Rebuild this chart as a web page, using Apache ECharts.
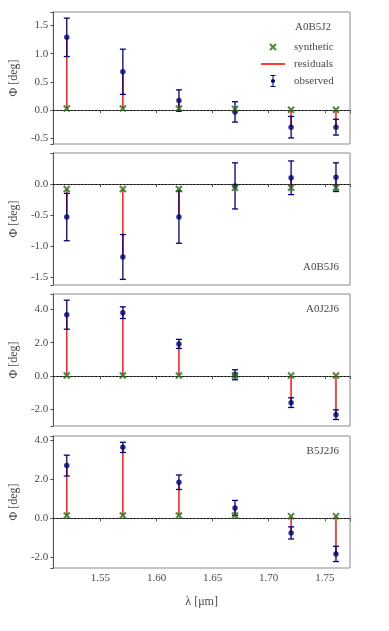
<!DOCTYPE html>
<html>
<head>
<meta charset="utf-8">
<script src="https://cdn.jsdelivr.net/npm/echarts@6/dist/echarts.min.js"></script>
<style>
  html, body { margin: 0; padding: 0; background: #fff; }
  #chart { width: 389px; height: 631px; }
</style>
</head>
<body>
<div id="chart"></div>
<script>
// wavelengths (micron)
const wavelengths = [1.52, 1.57, 1.62, 1.67, 1.72, 1.76];
const panelNames = ['A0B5J2', 'A0B5J6', 'A0J2J6', 'B5J2J6'];

// observed closure phase, its error, and the synthetic model (deg)
const obs_A0B5J2 = [1.29, 0.68, 0.17, -0.03, -0.30, -0.30];
const err_A0B5J2 = [0.34, 0.40, 0.19, 0.18, 0.19, 0.14];
const syn_A0B5J2 = [0.03, 0.03, 0.03, 0.02, 0.01, 0.01];

const obs_A0B5J6 = [-0.53, -1.17, -0.53, -0.03, 0.10, 0.11];
const err_A0B5J6 = [0.38, 0.36, 0.42, 0.37, 0.27, 0.23];
const syn_A0B5J6 = [-0.08, -0.08, -0.08, -0.06, -0.06, -0.06];

const obs_A0J2J6 = [3.68, 3.80, 1.93, 0.08, -1.59, -2.31];
const err_A0J2J6 = [0.87, 0.35, 0.27, 0.30, 0.29, 0.29];
const syn_A0J2J6 = [0.04, 0.04, 0.04, 0.04, 0.04, 0.04];

const obs_B5J2J6 = [2.69, 3.62, 1.84, 0.53, -0.75, -1.82];
const err_B5J2J6 = [0.53, 0.26, 0.37, 0.38, 0.31, 0.39];
const syn_B5J2J6 = [0.14, 0.14, 0.14, 0.14, 0.10, 0.10];

const observed = [obs_A0B5J2, obs_A0B5J6, obs_A0J2J6, obs_B5J2J6];
const errors = [err_A0B5J2, err_A0B5J6, err_A0J2J6, err_B5J2J6];
const synthetic = [syn_A0B5J2, syn_A0B5J6, syn_A0J2J6, syn_B5J2J6];

// axis limits
const xMin = 1.508, xMax = 1.7725;
const yMin = [-0.598, -1.62, -2.99, -2.54];
const yMax = [1.738, 0.498, 4.92, 4.20];
const ySplit = [5, 5, 4, 3];
const yStep = [0.5, 0.5, 2, 2];

const NAVY = '#00007a';
const RED = '#ff2424';
const GREEN = '#2b6e16';
const FONT = 'Liberation Serif';
const TXT = '#4a4a4a';

const X_SYMBOL = 'path://M0,2 L2,0 L5,3 L8,0 L10,2 L7,5 L10,8 L8,10 L5,7 L2,10 L0,8 L3,5 Z';
const X_ICON = 'path://M0,0 M16,16 M3,5 L5,3 L8,6 L11,3 L13,5 L10,8 L13,11 L11,13 L8,10 L5,13 L3,11 L6,8 Z';
const LINE_ICON = 'path://M0,0 H24 V1.8 H0 Z';
const ERR_ICON = 'path://M0,0 H6 V1.2 H0 Z M0,12.8 H6 V14 H0 Z M2.4,1.2 H3.6 V12.8 H2.4 Z M3,4.6 A2.4,2.4 0 1 1 3,9.4 A2.4,2.4 0 1 1 3,4.6 Z';

const tops = [12, 153, 294, 436];
const panelH = 132;

function onStep(v, step) {
  const r = v / step;
  return Math.abs(r - Math.round(r)) < 1e-6;
}

function errRender(params, api) {
  const x = api.value(0), y = api.value(1), e = api.value(2);
  const hi = api.coord([x, y + e]);
  const lo = api.coord([x, y - e]);
  const w = 3;
  const st = { stroke: NAVY, lineWidth: 1.3 };
  return {
    type: 'group',
    children: [
      { type: 'line', shape: { x1: hi[0], y1: hi[1], x2: lo[0], y2: lo[1] }, style: st },
      { type: 'line', shape: { x1: hi[0] - w, y1: hi[1], x2: hi[0] + w, y2: hi[1] }, style: st },
      { type: 'line', shape: { x1: lo[0] - w, y1: lo[1], x2: lo[0] + w, y2: lo[1] }, style: st }
    ]
  };
}

function resRender(params, api) {
  const x = api.value(0);
  const a = api.coord([x, api.value(1)]);
  const b = api.coord([x, api.value(2)]);
  return {
    type: 'line',
    shape: { x1: a[0], y1: a[1], x2: b[0], y2: b[1] },
    style: { stroke: RED, lineWidth: 1.6 }
  };
}

let grids = [], xAxes = [], yAxes = [], series = [];

for (let p = 0; p < 4; p++) {
  grids.push({
    left: 49, right: 39, top: tops[p], height: panelH,
    show: true, borderColor: '#8a8a8a', borderWidth: 1, backgroundColor: 'transparent'
  });
  const last = p === 3;
  xAxes.push({
    type: 'value', gridIndex: p, min: xMin, max: xMax, splitNumber: 5,
    splitLine: { show: false },
    axisLine: { show: true, lineStyle: { color: '#555', width: 1 } },
    axisTick: { show: true, length: 3, lineStyle: { color: '#555' } },
    axisLabel: {
      show: last, margin: 5, color: TXT, fontFamily: FONT, fontSize: 11,
      formatter: v => onStep(v, 0.05) ? v.toFixed(2) : ''
    },
    name: last ? 'λ [μm]' : '',
    nameLocation: 'middle', nameGap: 28,
    nameTextStyle: { color: TXT, fontFamily: FONT, fontSize: 12 }
  });
  const step = yStep[p];
  yAxes.push({
    type: 'value', gridIndex: p, min: yMin[p], max: yMax[p], splitNumber: ySplit[p],
    splitLine: { show: false },
    axisLine: { show: true, lineStyle: { color: '#555', width: 1 } },
    axisTick: { show: true, length: 3, lineStyle: { color: '#555' } },
    axisLabel: {
      margin: 5, color: TXT, fontFamily: FONT, fontSize: 11,
      formatter: v => onStep(v, step) ? v.toFixed(1) : ''
    },
    name: 'Φ [deg]', nameLocation: 'middle', nameGap: 30, nameRotate: 90,
    nameTextStyle: { color: TXT, fontFamily: FONT, fontSize: 12 }
  });

  const resData = wavelengths.map((w, i) => [w, synthetic[p][i], observed[p][i]]);
  const errData = wavelengths.map((w, i) => [w, observed[p][i], errors[p][i]]);
  const obsData = wavelengths.map((w, i) => [w, observed[p][i]]);
  const synData = wavelengths.map((w, i) => [w, synthetic[p][i]]);

  series.push({
    name: 'residuals', type: 'custom', xAxisIndex: p, yAxisIndex: p, z: 2,
    renderItem: resRender, data: resData, encode: { x: 0, y: [1, 2] },
    itemStyle: { color: RED },
    markLine: {
      silent: true, symbol: 'none', label: { show: false },
      lineStyle: { color: '#000', type: [1.5, 2], width: 1 },
      data: [{ yAxis: 0 }]
    }
  });
  series.push({
    name: 'observed', type: 'custom', xAxisIndex: p, yAxisIndex: p, z: 3,
    renderItem: errRender, data: errData, encode: { x: 0, y: 1 },
    itemStyle: { color: NAVY }
  });
  series.push({
    name: 'observed', type: 'scatter', xAxisIndex: p, yAxisIndex: p, z: 4,
    symbol: 'circle', symbolSize: 5.5, data: obsData,
    itemStyle: { color: NAVY }
  });
  series.push({
    name: 'synthetic', type: 'scatter', xAxisIndex: p, yAxisIndex: p, z: 5,
    symbol: X_SYMBOL, symbolSize: 7.5, data: synData,
    itemStyle: { color: GREEN }
  });
}

const titleStyle = { color: TXT, fontFamily: FONT, fontSize: 11, fontWeight: 'normal' };

const option = {
  backgroundColor: '#fff',
  animation: false,
  title: [
    { text: panelNames[0], left: 295, top: 22, textStyle: titleStyle, padding: 0 },
    { text: panelNames[1], right: 50, top: 262, textStyle: titleStyle, padding: 0 },
    { text: panelNames[2], right: 50, top: 304, textStyle: titleStyle, padding: 0 },
    { text: panelNames[3], right: 50, top: 446, textStyle: titleStyle, padding: 0 }
  ],
  legend: {
    orient: 'vertical', left: 261, top: 41, padding: 0,
    itemWidth: 24, itemHeight: 12, itemGap: 5,
    textStyle: { color: TXT, fontFamily: FONT, fontSize: 11, lineHeight: 12, padding: [0, 0, 0, 4] },
    data: [
      { name: 'synthetic', icon: X_ICON },
      { name: 'residuals', icon: LINE_ICON },
      { name: 'observed', icon: ERR_ICON }
    ]
  },
  grid: grids,
  xAxis: xAxes,
  yAxis: yAxes,
  series: series
};

const chart = echarts.init(document.getElementById('chart'));
chart.setOption(option);
</script>
</body>
</html>
